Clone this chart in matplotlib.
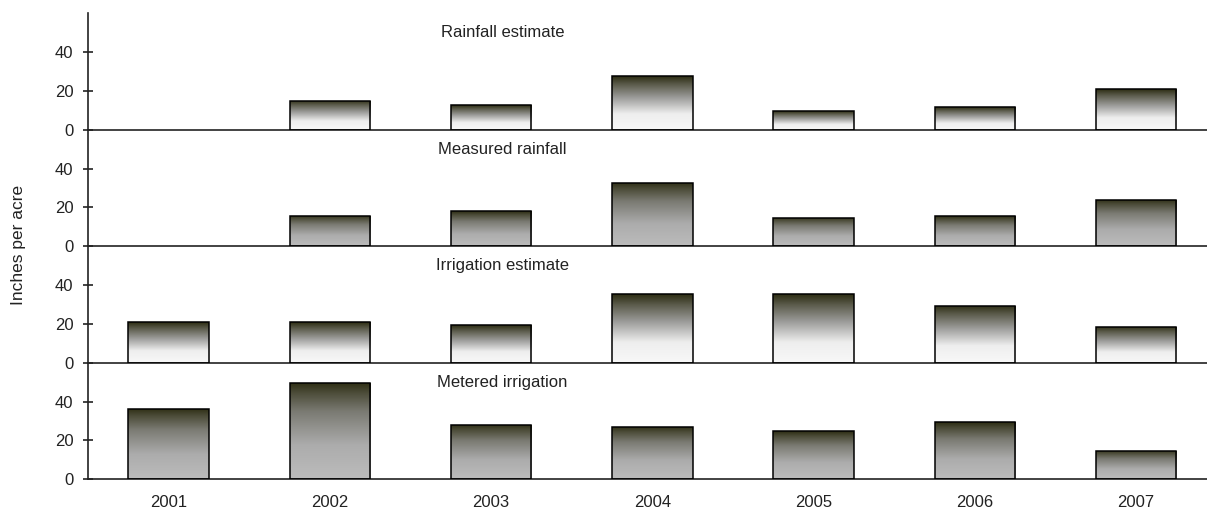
import numpy as np
import matplotlib
matplotlib.use("Agg")
import matplotlib.pyplot as plt
from matplotlib.colors import LinearSegmentedColormap

plt.rcParams['font.family'] = ['Liberation Sans', 'DejaVu Sans']

years = ['2001', '2002', '2003', '2004', '2005', '2006', '2007']
rainfall_estimate = [0, 15, 12.7, 27.5, 9.5, 11.7, 21]
measured_rainfall = [0, 15.5, 18, 32.7, 14.7, 15.4, 24]
irrigation_estimate = [21, 21, 19.4, 35.3, 35.3, 29.4, 18.6]
metered_irrigation = [36.3, 49.5, 28, 27.1, 24.7, 29.3, 14.6]

panel_titles = ['Rainfall estimate', 'Measured rainfall',
                'Irrigation estimate', 'Metered irrigation']
panel_values = [rainfall_estimate, measured_rainfall,
                irrigation_estimate, metered_irrigation]
y_ticks = [0, 20, 40]

cmap_light = LinearSegmentedColormap.from_list(
    'light', [(0.0, '#f8f8f8'), (0.3, '#eeeeee'), (0.6, '#9c9c9a'), (0.85, '#5a5a4a'), (1.0, '#2c2c12')])
cmap_gray = LinearSegmentedColormap.from_list(
    'gray', [(0.0, '#bcbcbc'), (0.35, '#acacac'), (0.7, '#7a7a72'), (0.9, '#4a4a36'), (1.0, '#2c2c12')])
panel_cmaps = [cmap_light, cmap_gray, cmap_light, cmap_gray]

W, H = 1207, 512
fig = plt.figure(figsize=(W / 100, H / 100), dpi=100)

left = 88 / W
ph = 116.5 / H
bottom0 = 1 - 479.3 / H
x = np.arange(len(years))
grad = np.linspace(0, 1, 256).reshape(-1, 1)
FS = 12

axes = []
for i in range(4):
    b = bottom0 + (3 - i) * ph
    ax = fig.add_axes([left, b, 1 - left, ph])
    axes.append(ax)
    vals = panel_values[i]
    bars = ax.bar(x, vals, width=0.5, facecolor='none', edgecolor='black',
                  linewidth=1.1, zorder=3)
    for rect, v in zip(bars, vals):
        if v <= 0:
            rect.set_visible(False)
            continue
        x0 = rect.get_x()
        im = ax.imshow(grad, cmap=panel_cmaps[i], origin='lower', aspect='auto',
                       extent=[x0, x0 + rect.get_width(), 0, v], zorder=2,
                       interpolation='bilinear')
        im.set_clip_path(rect)
    ax.set_xlim(-0.5, 6.44)
    ax.set_ylim(0, 60)
    ax.set_yticks(y_ticks)
    ax.tick_params(axis='y', direction='inout', length=7, width=1.2,
                   labelsize=FS, pad=7, colors='#222222', labelcolor='#222222')
    for s in ['top', 'right']:
        ax.spines[s].set_visible(False)
    ax.spines['left'].set_linewidth(1.2)
    ax.spines['bottom'].set_linewidth(1.2)
    ax.spines['left'].set_color('#222222')
    ax.spines['bottom'].set_color('#222222')
    ax.set_facecolor('none')
    ax.text(2.07, 50, panel_titles[i], ha='center', va='center',
            fontsize=FS, color='#222222')
    if i < 3:
        ax.set_xticks([])
    else:
        ax.set_xticks(x)
        ax.set_xticklabels(years)
        ax.tick_params(axis='x', length=0, pad=11, labelsize=FS,
                       labelcolor='#222222')

fig.text(19 / W, 1 - 245 / H, 'Inches per acre', rotation=90,
         ha='center', va='center', fontsize=12.5, color='#222222')

fig.savefig('out.png', dpi=100)
